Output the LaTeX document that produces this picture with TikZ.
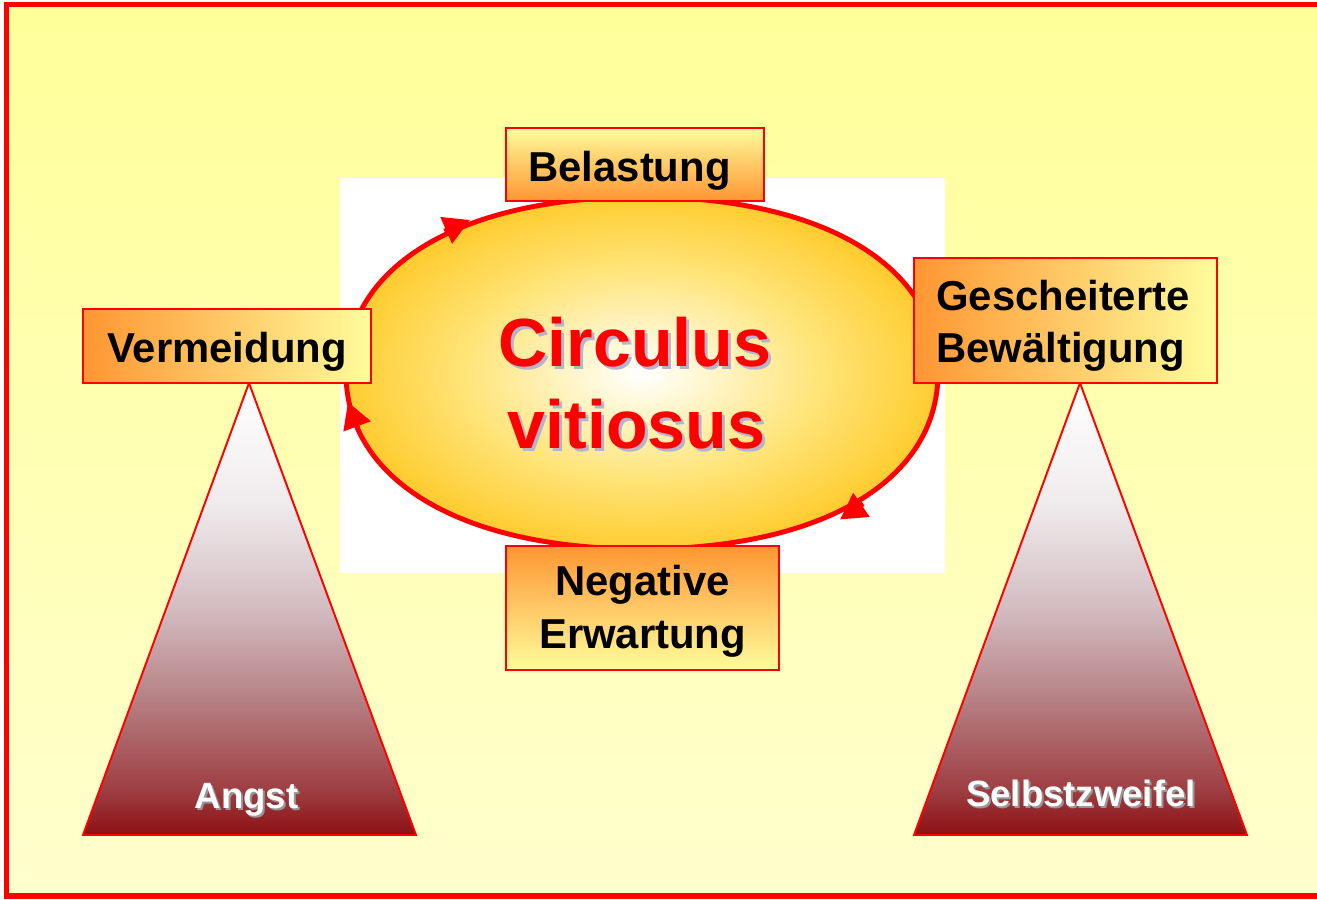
\documentclass[tikz,border=0pt]{standalone}
\usepackage{fontspec}
\setmainfont{Liberation Sans}
\usetikzlibrary{arrows.meta}
\definecolor{bgTop}{RGB}{255,255,153}
\definecolor{bgBot}{RGB}{255,255,206}
\definecolor{boxOr}{RGB}{255,150,50}
\definecolor{boxYe}{RGB}{255,252,155}
\definecolor{frameRed}{RGB}{255,0,0}
\definecolor{cvA}{RGB}{255,247,210}
\definecolor{cvB}{RGB}{255,228,120}
\definecolor{cvC}{RGB}{255,205,50}
\definecolor{triD}{RGB}{140,16,20}
\definecolor{triE}{RGB}{158,62,66}
\definecolor{triM}{RGB}{182,128,132}
\definecolor{triL}{RGB}{210,188,192}
\definecolor{triW}{RGB}{240,236,238}
\definecolor{cvShadow}{RGB}{180,180,205}
\definecolor{lblShadow}{RGB}{150,150,150}
\pgfdeclareradialshading{cvshade}{\pgfpoint{0bp}{0bp}}{color(0bp)=(white); color(5bp)=(cvA); color(15bp)=(cvB); color(25bp)=(cvC); color(50bp)=(cvC)}
\pgfdeclareverticalshading{trishade}{100bp}{color(0bp)=(triD); color(25bp)=(triD); color(30bp)=(triE); color(40bp)=(triM); color(50bp)=(triL); color(62bp)=(triW); color(75bp)=(white); color(100bp)=(white)}
\tikzset{
  boxV/.style={rectangle, draw=frameRed, line width=0.85pt, inner sep=0pt, outer sep=0pt, top color=boxYe, bottom color=boxOr},
  boxVi/.style={rectangle, draw=frameRed, line width=0.85pt, inner sep=0pt, outer sep=0pt, top color=boxOr, bottom color=boxYe},
  boxH/.style={rectangle, draw=frameRed, line width=0.85pt, inner sep=0pt, outer sep=0pt, left color=boxOr, right color=boxYe},
  lbl/.style={font=\fontsize{23.8}{29.8}\selectfont\bfseries, inner sep=0pt, anchor=base, text=black},
  cvtxt/.style={font=\fontsize{38.8}{46}\selectfont\bfseries, inner sep=0pt, anchor=base, text=frameRed},
  cvshd/.style={font=\fontsize{38.8}{46}\selectfont\bfseries, inner sep=0pt, anchor=base, text=cvShadow},
  tritxt/.style={font=\fontsize{20.8}{25}\selectfont\bfseries, inner sep=0pt, anchor=base, text=white},
  trishd/.style={font=\fontsize{20.8}{25}\selectfont\bfseries, inner sep=0pt, anchor=base, text=lblShadow},
  cyc/.style={draw=frameRed, line width=2.8pt},
  cyctip/.style={draw=frameRed, line width=2.8pt, -{Triangle[length=0.52cm,width=0.56cm]}},
  tri/.style={draw=frameRed, line width=1.1pt, shading=trishade}
}
\begin{document}
\begin{tikzpicture}[x=0.02cm,y=-0.02cm]
\useasboundingbox (0,0) rectangle (1317,899);
\begin{scope}
\clip (0,0) rectangle (1317,899);
\fill[white] (0,0) rectangle (1317,899);
\path[top color=bgTop, bottom color=bgBot] (6.75,4.5) rectangle (1345,896);
% white panel behind the cycle
\fill[white] (340,178) rectangle (945,573);
% cycle
\path[cyc, shading=cvshade] (938,373) .. controls (938,265.6) and (822.6,197) .. (642,197)
  .. controls (461.4,197) and (346,265.6) .. (346,373)
  .. controls (346,480.4) and (461.4,549) .. (642,549)
  .. controls (822.6,549) and (938,480.4) .. (938,373) -- cycle;
\coordinate (a1s) at (444.4,231.2);
\coordinate (a1e) at (470,220);
\coordinate (a2s) at (357.8,428.2);
\coordinate (a2e) at (348,402);
\coordinate (a3s) at (863.1,503.7);
\coordinate (a3e) at (840,519.5);
\draw[cyctip] (a1s) -- (a1e);
\draw[cyctip] (a2s) -- (a2e);
\draw[cyctip] (a3s) -- (a3e);
% centre text
\node[cvshd] (c1s) at (638,369) {Circulus};
\node[cvshd] (c2s) at (639.5,451) {vitiosus};
\node[cvtxt] (c1) at (635,366) {Circulus};
\node[cvtxt] (c2) at (636.5,448) {vitiosus};
% triangles
\coordinate (tlA) at (249,383);
\coordinate (tlB) at (416,835);
\coordinate (tlC) at (83,835);
\coordinate (trA) at (1080,383);
\coordinate (trB) at (1247,835);
\coordinate (trC) at (914,835);
\path[tri] (tlA) -- (tlB) -- (tlC) -- cycle;
\path[tri] (trA) -- (trB) -- (trC) -- cycle;
\node[trishd] (angS) at (248.5,810) {Angst};
\node[tritxt] (ang) at (246.5,808) {Angst};
\node[trishd] (selS) at (1083,808) {Selbstzweifel};
\node[tritxt] (sel) at (1081,806) {Selbstzweifel};
% boxes
\node[boxV, minimum width=5.16cm, minimum height=1.46cm] (bBel) at (635,164.5) {};
\node[boxH, minimum width=5.76cm, minimum height=1.48cm] (bVer) at (227,346) {};
\node[boxH, minimum width=6.06cm, minimum height=2.5cm] (bGes) at (1065.5,320.5) {};
\node[boxVi, minimum width=5.46cm, minimum height=2.48cm] (bNeg) at (642.5,608) {};
\node[lbl] (tBel) at (629.5,181) {Belastung};
\node[lbl] (tVer) at (227,362) {Vermeidung};
\node[lbl, anchor=base west] (tGes1) at (936,310) {Gescheiterte};
\node[lbl, anchor=base west] (tGes2) at (936,362) {Bewältigung};
\node[lbl] (tNeg1) at (642.5,595) {Negative};
\node[lbl] (tNeg2) at (642.5,648.5) {Erwartung};
% frame
\draw[frameRed, line width=0.11cm] (6.75,4.5) rectangle (1345,896);
\end{scope}
\end{tikzpicture}
\end{document}
